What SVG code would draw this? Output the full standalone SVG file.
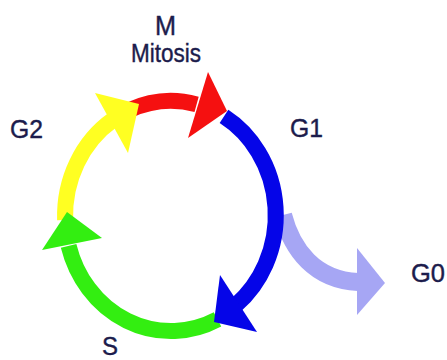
<svg xmlns="http://www.w3.org/2000/svg" width="447" height="360" viewBox="0 0 447 360">
  <style>
    .band { fill: none; stroke-width: 16; stroke-linecap: butt; }
    .lbl { font-family: "Liberation Sans", Arial, sans-serif; fill: #1c1c4c; stroke: #1c1c4c; stroke-width: 0.4; }
  </style>
  <rect width="447" height="360" fill="#ffffff"/>

  <g id="connectors">
    <!-- exit to G0 -->
    <path class="band" d="M 283,215 C 292,250 315,280 358,282" stroke="#a6a6f4" style="stroke-width:18"/>
    <polygon points="357,248 385,283 357,315" fill="#a6a6f4"/>
    <!-- cycle arcs -->
    <path class="band" d="M 129.6,110.1 A 106 115 0 0 1 196.6,104.4" stroke="#f51010"/>
    <path class="band" d="M 224,116.4 A 106 115 0 0 1 236,305" stroke="#0505e8"/>
    <path class="band" d="M 217.5,319.4 A 106 115 0 0 1 68.6,245.8" stroke="#33ee11"/>
    <path class="band" d="M 65.1,220 A 106 115 0 0 1 113.2,119.6" stroke="#ffff22"/>
  </g>

  <g id="M">
    <polygon points="208,72 227,111 188,138" fill="#f51010"/>
    <text class="lbl" x="155" y="35" font-size="27" textLength="21" lengthAdjust="spacingAndGlyphs">M</text>
    <text class="lbl" x="131" y="62" font-size="25" textLength="70" lengthAdjust="spacingAndGlyphs">Mitosis</text>
  </g>
  <g id="G1">
    <polygon points="220,275 257,332 214,322" fill="#0505e8"/>
    <text class="lbl" x="290" y="137" font-size="26" textLength="33" lengthAdjust="spacingAndGlyphs">G1</text>
  </g>
  <g id="S">
    <polygon points="67,212 42,250 102,238" fill="#33ee11"/>
    <text class="lbl" x="102" y="355" font-size="25" textLength="16" lengthAdjust="spacingAndGlyphs">S</text>
  </g>
  <g id="G2">
    <polygon points="95,93 139,104 128,153" fill="#ffff22"/>
    <text class="lbl" x="10" y="138" font-size="26" textLength="33" lengthAdjust="spacingAndGlyphs">G2</text>
  </g>
  <g id="G0">
    <text class="lbl" x="411" y="282" font-size="26" textLength="34" lengthAdjust="spacingAndGlyphs">G0</text>
  </g>
</svg>
